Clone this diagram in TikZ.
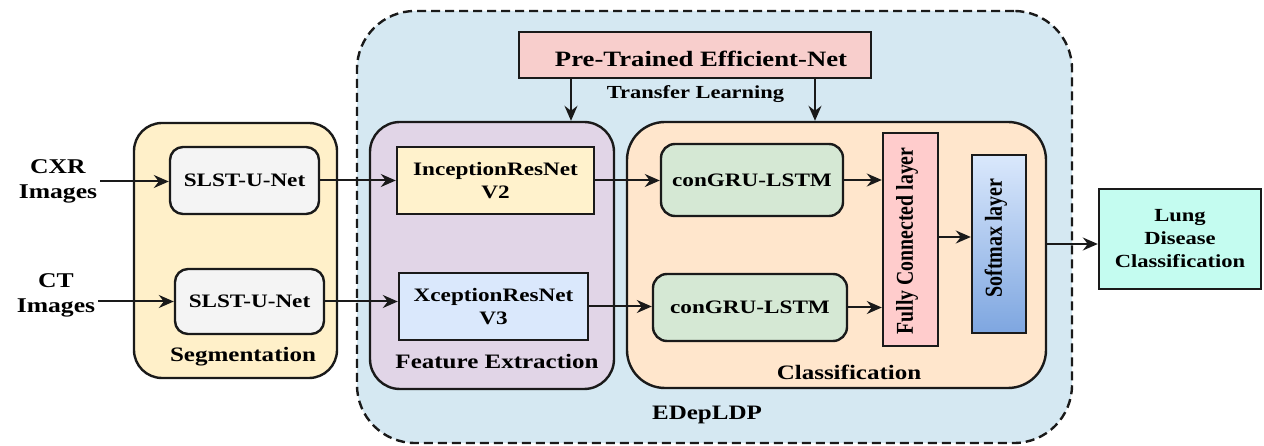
\documentclass[tikz,border=0pt]{standalone}
\usepackage{fontspec}
\setmainfont{Liberation Serif}[FakeStretch=1.22]
\newfontfamily\uprightserif{Liberation Serif}
\usetikzlibrary{arrows.meta}

\definecolor{linec}{HTML}{1A1A1A}
\definecolor{outerfill}{HTML}{D5E8F2}
\definecolor{segfill}{HTML}{FFF0C9}
\definecolor{fefill}{HTML}{E1D5E7}
\definecolor{clsfill}{HTML}{FFE6CC}
\definecolor{unetfill}{HTML}{F4F4F4}
\definecolor{incfill}{HTML}{FFF2CC}
\definecolor{xcpfill}{HTML}{DAE8FC}
\definecolor{grufill}{HTML}{D5E8D4}
\definecolor{fcfill}{HTML}{FFCCCC}
\definecolor{smtop}{HTML}{DAE8FC}
\definecolor{smbot}{HTML}{7EA6E0}
\definecolor{prefill}{HTML}{F8CECC}
\definecolor{lungfill}{HTML}{C4FCF0}

\begin{document}
\begin{tikzpicture}[x=1pt,y=-1pt,
  box/.style={draw=linec, line width=2.4pt, inner sep=0pt, align=center,
    font=\fontsize{19}{23}\selectfont\bfseries},
  group/.style={box, rounded corners=#1},
  group/.default=28pt,
  lbl/.style={inner sep=0pt, align=center, font=\fontsize{20.5}{24}\selectfont\bfseries},
  arr/.style={draw=linec, line width=2pt,
    -{Stealth[length=15pt,width=13pt,inset=5pt]}}
]
\useasboundingbox (0,0) rectangle (1264,446);

% enclosing EDepLDP frame
\node[draw=linec, fill=outerfill, line width=2.4pt, dash pattern=on 9pt off 5pt,
  rounded corners=58pt, minimum width=715, minimum height=432, inner sep=0pt]
  (edep) at (714.5,227) {};
\node[lbl] (edeplbl) at (707,415) {EDepLDP};

% inputs
\node[inner sep=3pt, align=center, font=\fontsize{21}{25}\selectfont\bfseries]
  (cxr) at (58,181.5) {CXR\\Images};
\node[inner sep=3pt, align=center, font=\fontsize{21}{25}\selectfont\bfseries]
  (ct) at (56,295.5) {CT\\Images};

% segmentation stage
\node[group=28pt, fill=segfill, minimum width=203, minimum height=255]
  (seg) at (235.5,250.5) {};
\node[lbl] (seglbl) at (243,357) {Segmentation};
\node[box, rounded corners=13pt, fill=unetfill, minimum width=149, minimum height=67]
  (unet1) at (244.5,180.5) {SLST-U-Net};
\node[box, rounded corners=13pt, fill=unetfill, minimum width=149, minimum height=65]
  (unet2) at (249.5,301.5) {SLST-U-Net};

% feature extraction stage
\node[group=30pt, fill=fefill, minimum width=244, minimum height=267]
  (fe) at (492,255.5) {};
\node[lbl] (felbl) at (497,362) {Feature Extraction};
\node[box, fill=incfill, minimum width=197, minimum height=67]
  (inc) at (495.5,180.5) {InceptionResNet\\V2};
\node[box, fill=xcpfill, minimum width=189, minimum height=67]
  (xcp) at (493.5,306.5) {XceptionResNet\\V3};

% classification stage
\node[group=38pt, fill=clsfill, minimum width=419, minimum height=266]
  (cls) at (836.5,255) {};
\node[lbl] (clslbl) at (849,372) {Classification};
\node[box, rounded corners=14pt, fill=grufill, minimum width=182, minimum height=72]
  (gru1) at (752,180) {conGRU-LSTM};
\node[box, rounded corners=14pt, fill=grufill, minimum width=194, minimum height=67]
  (gru2) at (750,307.5) {conGRU-LSTM};
\node[box, fill=fcfill, minimum width=55, minimum height=213]
  (fc) at (910.5,239.5) {};
\node[rotate=90, inner sep=0pt, font=\uprightserif\fontsize{19.8}{24}\selectfont\bfseries]
  (fctxt) at (907,241) {\scalebox{1}[1.22]{Fully Connected layer}};
\node[box, top color=smtop, bottom color=smbot, minimum width=54, minimum height=178]
  (soft) at (999,244) {};
\node[rotate=90, inner sep=0pt, font=\uprightserif\fontsize{20}{24}\selectfont\bfseries]
  (softtxt) at (996,238) {\scalebox{1}[1.22]{Softmax layer}};

% pre-trained backbone
\node[box, fill=prefill, minimum width=352, minimum height=46]
  (pre) at (695,55) {};
\node[inner sep=0pt, font=\fontsize{21.9}{26}\selectfont\bfseries]
  (pretxt) at (701,59) {Pre-Trained Efficient-Net};
\node[inner sep=0pt, font=\fontsize{18.4}{22}\selectfont\bfseries]
  (tl) at (695.5,94) {Transfer Learning};

% output
\node[box, fill=lungfill, minimum width=162, minimum height=100,
  font=\fontsize{18.5}{23}\selectfont\bfseries]
  (lung) at (1180,239) {Lung\\Disease\\Classification};

% connectors
\coordinate (tA) at (571,0);
\coordinate (tB) at (815,0);
\coordinate (ysm) at (0,237);
\draw[arr] (cxr.east) -- (cxr.east -| unet1.west);
\draw[arr] (ct.east |- unet2.west) -- (unet2.west);
\draw[arr] (unet1.east) -- (unet1.east -| inc.west);
\draw[arr] (unet2.east) -- (unet2.east -| xcp.west);
\draw[arr] (inc.east) -- (inc.east -| gru1.west);
\draw[arr] (xcp.east) -- (xcp.east -| gru2.west);
\draw[arr] (gru1.east) -- (gru1.east -| fc.west);
\draw[arr] (gru2.east) -- (gru2.east -| fc.west);
\draw[arr] (fc.east |- ysm) -- (soft.west |- ysm);
\draw[arr] (cls.east |- soft) -- (lung.west |- soft);
\draw[arr] (pre.south -| tA) -- (fe.north -| tA);
\draw[arr] (pre.south -| tB) -- (cls.north -| tB);
\end{tikzpicture}
\end{document}
